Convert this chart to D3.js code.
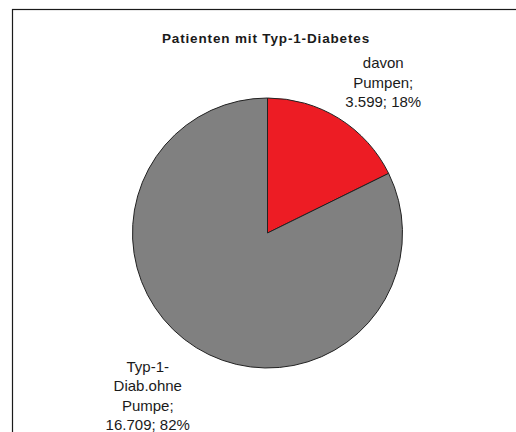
<!DOCTYPE html>
<html>
<head>
<meta charset="utf-8">
<script src="https://cdn.jsdelivr.net/npm/d3@7"></script>
<style>
  html, body { margin: 0; padding: 0; background: #fff; }
  svg { display: block; }
  text { font-family: "Liberation Sans", Arial, sans-serif; fill: #1a1a1a; }
</style>
</head>
<body>
<svg id="chart" width="516" height="432"></svg>
<script>
// Chart data
const title = "Patienten mit Typ-1-Diabetes";
const categories = ["davon Pumpen", "Typ-1-Diab.ohne Pumpe"];
const values = [3599, 16709];
const percents = ["18%", "82%"];
const valueLabels = ["3.599", "16.709"];
const labelLines = [
  ["davon", "Pumpen;", "3.599; 18%"],
  ["Typ-1-", "Diab.ohne", "Pumpe;", "16.709; 82%"]
];
const colors = ["#ED1C24", "#808080"];

const W = 516, H = 432;
const cx = 267.5, cy = 233, R = 135;

const svg = d3.select("#chart");

// Outer frame (runs past the right and bottom edges)
svg.append("rect")
  .attr("x", 12.5).attr("y", 9.5)
  .attr("width", W + 10).attr("height", H + 10)
  .attr("fill", "#fff")
  .attr("stroke", "#1a1a1a")
  .attr("stroke-width", 1.2);

// Title
svg.append("text")
  .attr("x", 266).attr("y", 42.5)
  .attr("text-anchor", "middle")
  .style("font-size", "13.5px")
  .style("font-weight", "bold")
  .style("letter-spacing", "0.85px")
  .text(title);

const pie = d3.pie().sort(null).value(d => d)
  .startAngle(0).endAngle(2 * Math.PI);
const arcs = pie(values);

const arc = d3.arc().innerRadius(0).outerRadius(R);

const g = svg.append("g").attr("transform", `translate(${cx},${cy})`);

g.selectAll("path.slice")
  .data(arcs)
  .join("path")
  .attr("class", "slice")
  .attr("d", arc)
  .attr("fill", (d, i) => colors[i])
  .attr("stroke", "#222")
  .attr("stroke-width", 1)
  .attr("stroke-linejoin", "round");

// Data labels placed outside each slice
const labelArc = d3.arc().innerRadius(185).outerRadius(185);
const labelNudge = [[18, 7], [-22, 6]];
const lineH = 19.5;

arcs.forEach((a, i) => {
  const [x, y] = labelArc.centroid(a);
  const t = g.append("text")
    .attr("text-anchor", "middle")
    .style("font-size", "15px")
    .attr("transform", `translate(${x + labelNudge[i][0]},${y + labelNudge[i][1]})`);
  const lines = labelLines[i];
  const y0 = -((lines.length - 1) * lineH) / 2 + 5;
  lines.forEach((ln, k) => {
    t.append("tspan").attr("x", 0).attr("y", y0 + k * lineH).text(ln);
  });
});
</script>
</body>
</html>
